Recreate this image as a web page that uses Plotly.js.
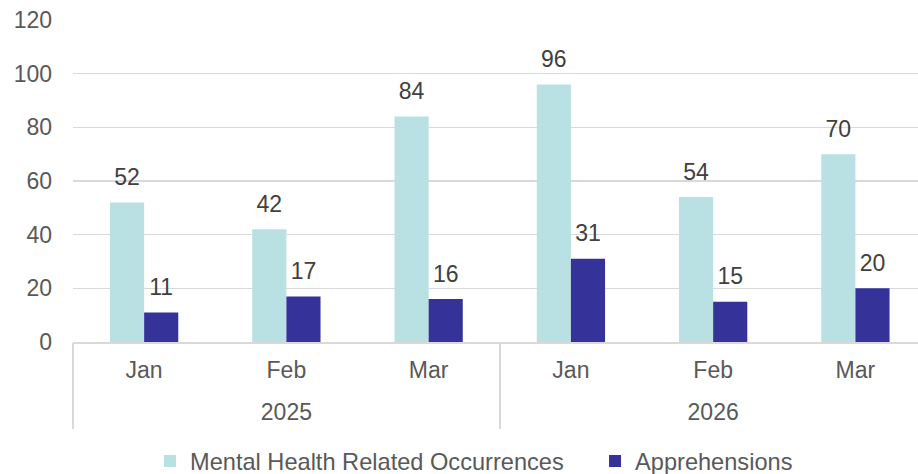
<!DOCTYPE html>
<html>
<head>
<meta charset="utf-8">
<script src="https://cdn.plot.ly/plotly-3.0.1.min.js"></script>
<style>html,body{margin:0;padding:0;background:#fff;}#chart{width:918px;height:474px;}</style>
</head>
<body>
<div id="chart"></div>
<script>
var years = ["2025", "2025", "2025", "2026", "2026", "2026"];
var months = ["Jan", "Feb", "Mar", "Jan", "Feb", "Mar"];
var mentalHealth = [52, 42, 84, 96, 54, 70];
var apprehensions = [11, 17, 16, 31, 15, 20];
var seriesNames = ["Mental Health Related Occurrences", "Apprehensions"];
var yTicks = [0, 20, 40, 60, 80, 100, 120];

var font = "Liberation Sans, Arial, sans-serif";
var cats = months.map(function (m, i) { return m + " " + years[i]; });

// year groups: centre and boundaries derived from the category index
var groupYears = [], groupCenters = [], groupBounds = [-0.5];
years.forEach(function (y) {
  if (groupYears.indexOf(y) === -1) groupYears.push(y);
});
groupYears.forEach(function (y) {
  var idx = [];
  years.forEach(function (yy, i) { if (yy === y) idx.push(i); });
  groupCenters.push((idx[0] + idx[idx.length - 1]) / 2);
  groupBounds.push(idx[idx.length - 1] + 0.5);
});
var xRange = [-0.5, 5.44];

var traces = [
  {type: "bar", x: cats, y: mentalHealth, name: seriesNames[0], offsetgroup: "a", legend: "legend",
   marker: {color: "#B9E0E3"}, hoverinfo: "skip"},
  {type: "bar", x: cats, y: apprehensions, name: seriesNames[1], offsetgroup: "b", legend: "legend2",
   marker: {color: "#35339A"}, hoverinfo: "skip"},
  {type: "scatter", mode: "markers+text", x: cats, y: mentalHealth, text: mentalHealth.map(String),
   offsetgroup: "a", textposition: "top center", showlegend: false, hoverinfo: "skip",
   marker: {size: 17, color: "rgba(0,0,0,0)"}, textfont: {family: font, size: 23, color: "#404040"}, cliponaxis: false},
  {type: "scatter", mode: "markers+text", x: cats, y: apprehensions, text: apprehensions.map(String),
   offsetgroup: "b", textposition: "top center", showlegend: false, hoverinfo: "skip",
   marker: {size: 17, color: "rgba(0,0,0,0)"}, textfont: {family: font, size: 23, color: "#404040"}, cliponaxis: false},
  {type: "scatter", mode: "markers", x: groupCenters, y: [null, null], xaxis: "x2", showlegend: false, hoverinfo: "skip"},
  {type: "scatter", mode: "markers", x: groupBounds, y: [null, null, null], xaxis: "x3", showlegend: false, hoverinfo: "skip"}
];

var legendFont = {family: font, size: 23.6, color: "#595959"};
var layout = {
  width: 918, height: 474,
  margin: {l: 73, r: 0, t: 20, b: 132, autoexpand: false},
  paper_bgcolor: "#ffffff", plot_bgcolor: "#ffffff",
  font: {family: font, size: 23, color: "#595959"},
  barmode: "group", bargap: 0.52, bargroupgap: 0,
  scattermode: "group", scattergap: 0.52,
  showlegend: true,
  legend: {orientation: "h", x: 0.0911, xanchor: "left", y: -0.37, yanchor: "middle", font: legendFont},
  legend2: {orientation: "h", x: 0.6178, xanchor: "left", y: -0.37, yanchor: "middle", font: legendFont},
  xaxis: {type: "category", categoryorder: "array", categoryarray: cats, range: xRange,
          tickvals: cats, ticktext: months, ticklabelstandoff: 7,
          showline: true, linecolor: "#d9d9d9", linewidth: 1.5, ticks: "", showgrid: false, zeroline: false,
          tickfont: {family: font, size: 23, color: "#595959"}},
  xaxis2: {overlaying: "x", anchor: "y", side: "bottom", type: "linear", range: xRange,
           tickvals: groupCenters, ticktext: groupYears, ticks: "", ticklabelstandoff: 54,
           showline: false, showgrid: false, zeroline: false,
           tickfont: {family: font, size: 23, color: "#595959"}},
  xaxis3: {overlaying: "x", anchor: "y", side: "bottom", type: "linear", range: xRange,
           tickvals: groupBounds, showticklabels: false, ticks: "outside", ticklen: 86,
           tickcolor: "#d9d9d9", tickwidth: 1.5, showline: false, showgrid: false, zeroline: false},
  yaxis: {range: [0, 120], tickvals: yTicks, ticktext: yTicks.map(String), showgrid: true,
          gridcolor: "#d9d9d9", gridwidth: 1.5, zeroline: false, showline: false, ticks: "",
          ticklabelstandoff: 20, tickfont: {family: font, size: 23, color: "#595959"}}
};

Plotly.newPlot("chart", traces, layout, {staticPlot: true, displayModeBar: false});
</script>
</body>
</html>
